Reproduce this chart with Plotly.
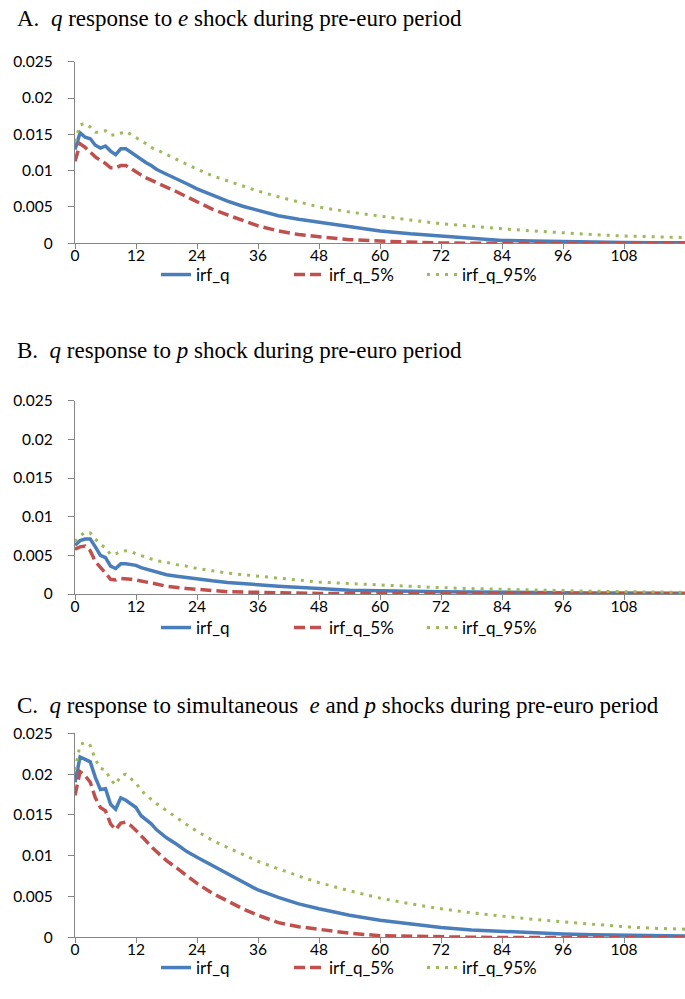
import plotly.graph_objects as go

# horizon (months) at which values were read
months = [0, 1, 2, 3, 4, 5, 6, 7, 8, 9, 10, 11, 12, 13, 14, 15, 16,
          18, 20, 22, 24, 27, 30, 33, 36, 40, 44, 48,
          54, 60, 66, 72, 78, 84, 90, 96, 102, 108, 114, 120]

# Panel A: q response to e shock
a_irf = [0.0129, 0.0152, 0.0146, 0.0144, 0.0135, 0.0131, 0.0134, 0.0127, 0.0122, 0.0130, 0.0130, 0.0125, 0.0120, 0.0115, 0.0111, 0.0107, 0.0102,
         0.0095, 0.0089, 0.0082, 0.0075, 0.0066, 0.0058, 0.0051, 0.0045, 0.0038, 0.0033, 0.0029,
         0.0022, 0.0017, 0.0013, 0.0010, 0.0006, 0.0004, 0.0003, 0.0002, 0.00015, 0.0001, 0.00008, 0.00006]
a_lo = [0.0113, 0.0137, 0.0132, 0.0125, 0.0119, 0.0114, 0.0110, 0.0104, 0.0104, 0.0107, 0.0107, 0.0103, 0.0098, 0.0094, 0.0090, 0.0087, 0.0084,
        0.0077, 0.0071, 0.0064, 0.0057, 0.0047, 0.0039, 0.0032, 0.0024, 0.0017, 0.0012, 0.0009,
        0.0005, 0.0003, 0.00015, 0.00005, 0.0, -0.00003, -0.00003, -0.00003, -0.00003, -0.00002, -0.00002, -0.00002]
a_hi = [0.0140, 0.0163, 0.0165, 0.0160, 0.0153, 0.0153, 0.0155, 0.0149, 0.0149, 0.0152, 0.0154, 0.0150, 0.0145, 0.0141, 0.0137, 0.0132, 0.0129,
        0.0122, 0.0116, 0.0109, 0.0102, 0.0093, 0.0086, 0.0078, 0.0072, 0.0064, 0.0057, 0.0050,
        0.0043, 0.0037, 0.0032, 0.0027, 0.0023, 0.0020, 0.0017, 0.0014, 0.0012, 0.0010, 0.0009, 0.0008]

# Panel B: q response to p shock
b_irf = [0.0063, 0.0069, 0.0071, 0.0071, 0.0061, 0.0050, 0.0047, 0.0036, 0.0033, 0.0039, 0.0039, 0.0038, 0.0037, 0.0034, 0.0032, 0.0030, 0.0028,
         0.0025, 0.0023, 0.0021, 0.0019, 0.0017, 0.0015, 0.0013, 0.0012, 0.0010, 0.0008, 0.0007,
         0.0005, 0.0004, 0.00035, 0.0003, 0.00025, 0.0002, 0.00017, 0.00015, 0.00013, 0.00012, 0.0001, 0.0001]
b_lo = [0.0058, 0.0061, 0.0062, 0.0056, 0.0042, 0.0035, 0.0027, 0.0019, 0.0018, 0.0020, 0.0020, 0.0019, 0.0018, 0.0017, 0.0015, 0.0014, 0.0013,
        0.0010, 0.0008, 0.0007, 0.0006, 0.0004, 0.0003, 0.00025, 0.0002, 0.00015, 0.0001, 0.00008,
        0.00006, 0.00005, 0.00005, 0.00005, 0.00004, 0.00004, 0.00004, 0.00004, 0.00004, 0.00004, 0.00004, 0.00004]
b_hi = [0.0068, 0.0075, 0.0080, 0.0079, 0.0071, 0.0064, 0.0060, 0.0051, 0.0052, 0.0055, 0.0056, 0.0055, 0.0052, 0.0050, 0.0048, 0.0045, 0.0043,
        0.0041, 0.0038, 0.0036, 0.0033, 0.0030, 0.0027, 0.0025, 0.0023, 0.0020, 0.0018, 0.00155,
        0.00135, 0.00116, 0.00098, 0.00082, 0.0007, 0.0006, 0.0005, 0.00042, 0.00036, 0.0003, 0.00026, 0.00022]

# Panel C: q response to simultaneous e and p shocks
c_irf = [0.0190, 0.0221, 0.0218, 0.0215, 0.0196, 0.0181, 0.0182, 0.0163, 0.0157, 0.0171, 0.0168, 0.0164, 0.0159, 0.0149, 0.0144, 0.0139, 0.0132,
         0.0122, 0.0114, 0.0105, 0.0098, 0.0088, 0.0077, 0.0067, 0.0058, 0.0049, 0.0041, 0.0035,
         0.0027, 0.0021, 0.0016, 0.0012, 0.0009, 0.0007, 0.0005, 0.0004, 0.0003, 0.00025, 0.0002, 0.00015]
c_lo = [0.0174, 0.0203, 0.0198, 0.0190, 0.0171, 0.0159, 0.0155, 0.0139, 0.0132, 0.0140, 0.0141, 0.0137, 0.0131, 0.0125, 0.0118, 0.0111, 0.0105,
        0.0094, 0.0085, 0.0075, 0.0066, 0.0054, 0.0044, 0.0035, 0.0027, 0.0018, 0.0013, 0.0010,
        0.0005, 0.0002, 0.0001, 0.00003, 0.0, -0.00002, -0.00002, -0.00002, -0.00002, -0.00002, -0.00002, -0.00002]
c_hi = [0.0205, 0.0236, 0.0239, 0.0235, 0.0218, 0.0207, 0.0205, 0.0193, 0.0187, 0.0198, 0.0200, 0.0195, 0.0189, 0.0180, 0.0174, 0.0169, 0.0164,
        0.0155, 0.0146, 0.0138, 0.0130, 0.0119, 0.0110, 0.0101, 0.0093, 0.0084, 0.0075, 0.0067,
        0.0057, 0.0048, 0.0041, 0.0035, 0.0030, 0.0026, 0.0022, 0.0019, 0.0016, 0.0013, 0.0011, 0.0010]

series_names = ["irf_q", "irf_q_5%", "irf_q_95%"]
x_ticks = [0, 12, 24, 36, 48, 60, 72, 84, 96, 108]
y_ticks = [0, 0.005, 0.01, 0.015, 0.02, 0.025]
y_ticklabels = ["0", "0.005", "0.01", "0.015", "0.02", "0.025"]
titles = [
    "A.  <i>q</i> response to <i>e</i> shock during pre-euro period",
    "B.  <i>q</i> response to <i>p</i> shock during pre-euro period",
    "C.  <i>q</i> response to simultaneous  <i>e</i> and <i>p</i> shocks during pre-euro period",
]

W, H = 685, 999
BLUE, RED, GREEN = "#4A7EBB", "#C0504D", "#9BBB59"
AXIS = "#868686"
SANS = "Lato, Carlito, Calibri, sans-serif"
TICKFONT = dict(family=SANS, size=15.5, color="#000000")
LEGFONT = dict(family=SANS, size=17, color="#000000")

# pixel layout: (top of plot, bottom of plot, title centre, legend centre)
panels_px = [(61.7, 243.3, 18, 275), (400.7, 594, 350, 628), (733.3, 937.3, 705, 968)]
legend_left_px = [156, 289, 422]
panel_data = [(a_irf, a_lo, a_hi), (b_irf, b_lo, b_hi), (c_irf, c_lo, c_hi)]
styles = [dict(color=BLUE, width=3.5, dash="solid"),
          dict(color=RED, width=3.5, dash="11px,5px"),
          dict(color=GREEN, width=3, dash="3px,6px")]

fig = go.Figure()
layout = dict(width=W, height=H, margin=dict(l=0, r=0, t=0, b=0, autoexpand=False),
              paper_bgcolor="white", plot_bgcolor="white", showlegend=True)
annotations = []
x_left = 75 / W

k = 0
for i, ((top, bot, ttl, leg), data) in enumerate(zip(panels_px, panel_data)):
    n = "" if i == 0 else str(i + 1)
    for j, (name, ys, st) in enumerate(zip(series_names, data, styles)):
        k += 1
        legname = "legend" if k == 1 else "legend" + str(k)
        fig.add_trace(go.Scatter(x=months, y=ys, mode="lines", name=name,
                                 line=st, xaxis="x" + n, yaxis="y" + n,
                                 legend=legname, hoverinfo="skip"))
        layout[legname] = dict(orientation="h", x=legend_left_px[j] / W, xanchor="left",
                               y=1 - leg / H, yanchor="middle", font=LEGFONT,
                               bgcolor="rgba(0,0,0,0)")
    layout["xaxis" + n] = dict(domain=[x_left, 1], range=[0, 120], anchor="y" + n,
                               tickvals=x_ticks, ticks="outside", ticklen=5, tickcolor=AXIS,
                               showline=True, linecolor=AXIS, linewidth=1.3,
                               showgrid=False, zeroline=False, tickfont=TICKFONT,
                               ticklabelstandoff=-7, layer="below traces")
    layout["yaxis" + n] = dict(domain=[1 - bot / H, 1 - top / H], range=[0, 0.025], anchor="x" + n,
                               tickvals=y_ticks, ticktext=y_ticklabels, ticks="outside",
                               ticklen=6, tickcolor=AXIS, showline=True, linecolor=AXIS,
                               linewidth=1.3, showgrid=False, zeroline=False,
                               tickfont=TICKFONT, ticklabelstandoff=12, layer="below traces")
    annotations.append(dict(text=titles[i], xref="paper", yref="paper", x=15 / W, y=1 - ttl / H,
                            xanchor="left", yanchor="middle", showarrow=False,
                            font=dict(family="Liberation Serif, Times New Roman, serif", size=23, color="#000000")))

layout["annotations"] = annotations
fig.update_layout(**layout)
fig.write_html("out.html")
